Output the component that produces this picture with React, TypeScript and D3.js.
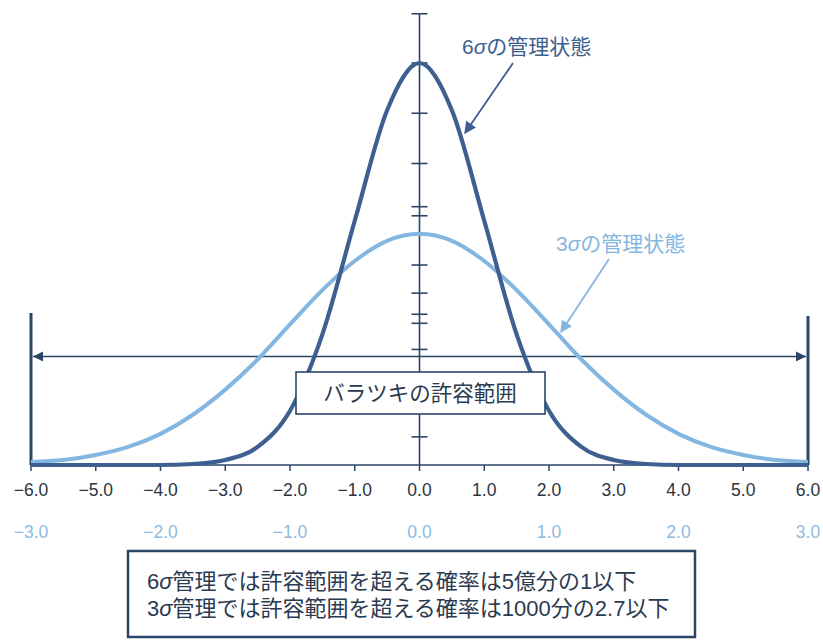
import React from "react";
import * as d3 from "d3";

// --- data ---
const xTicks = [-6, -5, -4, -3, -2, -1, 0, 1, 2, 3, 4, 5, 6];
const xTickLabels = ["−6.0", "−5.0", "−4.0", "−3.0", "−2.0", "−1.0", "0.0", "1.0", "2.0", "3.0", "4.0", "5.0", "6.0"];
const x3Ticks = [-6, -4, -2, 0, 2, 4, 6];
const x3TickLabels = ["−3.0", "−2.0", "−1.0", "0.0", "1.0", "2.0", "3.0"];
const yTicks = [0.449, 0.4, 0.35, 0.3, 0.257, 0.248, 0.199, 0.171, 0.15, 0.141, 0.115, 0.028];

const curveX = [-6, -5.5, -5, -4.5, -4, -3.5, -3, -2.5, -2, -1.5, -1, -0.5, 0, 0.5, 1, 1.5, 2, 2.5, 3, 3.5, 4, 4.5, 5, 5.5, 6];
const sixSigma = [0, 0, 0, 0, 0, 0.001, 0.005, 0.018, 0.054, 0.13, 0.243, 0.353, 0.4, 0.353, 0.243, 0.13, 0.054, 0.018, 0.005, 0.001, 0, 0, 0, 0, 0];
const threeSigma = [0.003, 0.005, 0.01, 0.018, 0.031, 0.05, 0.075, 0.105, 0.14, 0.174, 0.203, 0.223, 0.23, 0.223, 0.203, 0.174, 0.14, 0.105, 0.075, 0.05, 0.031, 0.018, 0.01, 0.005, 0.003];

const label6 = ["6", "σ", "の管理状態"];
const label3 = ["3", "σ", "の管理状態"];
const rangeLabel = "バラツキの許容範囲";
const noteLines = [
  ["6", "σ", "管理では許容範囲を超える確率は5億分の1以下"],
  ["3", "σ", "管理では許容範囲を超える確率は1000分の2.7以下"],
];

const W = 823;
const H = 641;
const DARK = "#2a4568";
const CURVE6 = "#3d6090";
const CURVE3 = "#84b6e2";
const FONT = "'Noto Sans CJK JP', 'Noto Sans', sans-serif";
const NUMFONT = "'Liberation Sans', Arial, sans-serif";
const MIXFONT = "'Liberation Sans', 'Noto Sans CJK JP', sans-serif";

function SigmaText(props: { parts: string[]; x: number; y: number; size: number; fill: string }) {
  const { parts, x, y, size, fill } = props;
  return (
    <text x={x} y={y} fontFamily={FONT} fontSize={size} fill={fill}>
      <tspan fontFamily={NUMFONT}>{parts[0]}</tspan>
      <tspan fontFamily={NUMFONT} fontStyle="italic">{parts[1]}</tspan>
      <tspan>{parts[2]}</tspan>
    </text>
  );
}

export default function App() {
  const x = d3.scaleLinear().domain([-6, 6]).range([31, 808]);
  const y = d3.scaleLinear().domain([0, 0.4]).range([465, 63]);
  const line = d3
    .line<number>()
    .x((_, i) => x(curveX[i]))
    .y((v) => y(v))
    .curve(d3.curveMonotoneX);

  const x0 = x(0);
  const yBase = y(0);
  const arrowY = y(0.108);

  return (
    <svg
      width={W}
      height={H}
      style={{ position: "absolute", left: 0, top: 0, background: "#fff" }}
      xmlns="http://www.w3.org/2000/svg"
    >
      <defs>
        <marker id="ah" viewBox="0 0 10 10" refX="10" refY="5" markerWidth="14" markerHeight="10" markerUnits="userSpaceOnUse" orient="auto-start-reverse">
          <path d="M0,0 L10,5 L0,10 z" fill={DARK} />
        </marker>
        <marker id="ah6" viewBox="0 0 10 10" refX="9" refY="5" markerWidth="14" markerHeight="12" markerUnits="userSpaceOnUse" orient="auto">
          <path d="M0,0 L10,5 L0,10 z" fill={CURVE6} />
        </marker>
        <marker id="ah3" viewBox="0 0 10 10" refX="9" refY="5" markerWidth="14" markerHeight="12" markerUnits="userSpaceOnUse" orient="auto">
          <path d="M0,0 L10,5 L0,10 z" fill={CURVE3} />
        </marker>
      </defs>

      {/* vertical center axis */}
      <line x1={x0} x2={x0} y1={y(0.449)} y2={yBase} stroke={DARK} strokeWidth={1.6} />
      {yTicks.map((t, i) => (
        <line key={"yt" + i} x1={x0 - 8} x2={x0 + 8} y1={y(t)} y2={y(t)} stroke={DARK} strokeWidth={1.6} />
      ))}

      {/* baseline */}
      <line x1={x(-6)} x2={x(6)} y1={yBase} y2={yBase} stroke={DARK} strokeWidth={1.6} />
      {xTicks.map((t) => (
        <line key={"xt" + t} x1={x(t)} x2={x(t)} y1={yBase} y2={yBase + 6} stroke={DARK} strokeWidth={1.5} />
      ))}

      {/* end bars */}
      <line x1={x(-6)} x2={x(-6)} y1={313} y2={yBase} stroke={DARK} strokeWidth={3} />
      <line x1={x(6)} x2={x(6)} y1={316} y2={yBase} stroke={DARK} strokeWidth={3} />

      {/* tolerance arrow */}
      <line x1={x(-6) + 2} x2={x(6) - 2} y1={arrowY} y2={arrowY} stroke={DARK} strokeWidth={1.6} markerStart="url(#ah)" markerEnd="url(#ah)" />

      {/* curves */}
      <path d={line(threeSigma) || ""} fill="none" stroke={CURVE3} strokeWidth={4} />
      <path d={line(sixSigma) || ""} fill="none" stroke={CURVE6} strokeWidth={4.2} />

      {/* range label box */}
      <rect x={296} y={372} width={249} height={42} fill="#fff" stroke={DARK} strokeWidth={1.6} />
      <text x={420} y={400.5} textAnchor="middle" fontFamily={FONT} fontSize={21.5} fill="#2a3a50">
        {rangeLabel}
      </text>

      {/* annotations */}
      <SigmaText parts={label6} x={462} y={54} size={21} fill={CURVE6} />
      <line x1={513} y1={63} x2={465} y2={133} stroke={CURVE6} strokeWidth={1.8} markerEnd="url(#ah6)" />
      <SigmaText parts={label3} x={556} y={251} size={21} fill={CURVE3} />
      <line x1={609} y1={259} x2={561} y2={332} stroke={CURVE3} strokeWidth={1.8} markerEnd="url(#ah3)" />

      {/* x tick labels */}
      {xTicks.map((t, i) => (
        <text key={"xl" + t} x={x(t)} y={496} textAnchor="middle" fontFamily={NUMFONT} fontSize={17.5} fill="#2b3440">
          {xTickLabels[i]}
        </text>
      ))}
      {x3Ticks.map((t, i) => (
        <text key={"x3" + t} x={x(t)} y={538} textAnchor="middle" fontFamily={NUMFONT} fontSize={17.5} fill="#8dbbe0">
          {x3TickLabels[i]}
        </text>
      ))}

      {/* note box */}
      <rect x={128} y={551} width={567} height={86} fill="#fff" stroke={DARK} strokeWidth={2.5} />
      {noteLines.map((parts, i) => (
        <text key={"n" + i} x={147} y={589 + i * 27} fontFamily={MIXFONT} fontSize={22} fill="#2a3a50">
          <tspan>{parts[0]}</tspan>
          <tspan fontStyle="italic">{parts[1]}</tspan>
          <tspan>{parts[2]}</tspan>
        </text>
      ))}
    </svg>
  );
}
